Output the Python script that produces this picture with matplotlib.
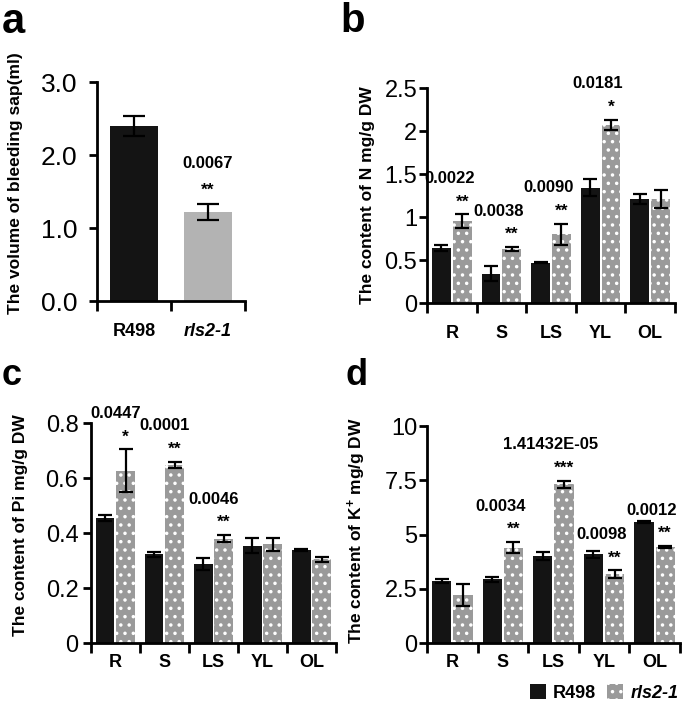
import numpy as np
import matplotlib
matplotlib.use('Agg')
import matplotlib.pyplot as plt
from matplotlib.patches import Patch
from matplotlib.ticker import FuncFormatter

plt.rcParams['font.family'] = ['Liberation Sans', 'DejaVu Sans']
plt.rcParams['mathtext.default'] = 'regular'
plt.rcParams['hatch.linewidth'] = 1.3

# panel a - bleeding sap
genotypes = ['R498', 'rls2-1']
sap = [2.40, 1.22]
sap_err = [0.14, 0.11]
sap_p = '0.0067'
sap_star = '**'

tissues = ['R', 'S', 'LS', 'YL', 'OL']

# panel b - N
n_wt = [0.64, 0.34, 0.47, 1.34, 1.21]
n_wt_err = [0.03, 0.085, 0.01, 0.10, 0.06]
n_mut = [0.95, 0.63, 0.80, 2.07, 1.21]
n_mut_err = [0.08, 0.02, 0.12, 0.06, 0.10]
n_p = ['0.0022', '0.0038', '0.0090', '0.0181', '']
n_star = ['**', '**', '**', '*', '']

# panel c - Pi
pi_wt = [0.455, 0.322, 0.289, 0.354, 0.338]
pi_wt_err = [0.012, 0.008, 0.022, 0.028, 0.005]
pi_mut = [0.627, 0.648, 0.380, 0.359, 0.304]
pi_mut_err = [0.077, 0.010, 0.012, 0.024, 0.010]
pi_p = ['0.0447', '0.0001', '0.0046', '', '']
pi_star = ['*', '**', '**', '', '']

# panel d - K+
k_wt = [2.87, 2.93, 4.00, 4.09, 5.57]
k_wt_err = [0.10, 0.10, 0.18, 0.15, 0.05]
k_mut = [2.20, 4.40, 7.32, 3.17, 4.43]
k_mut_err = [0.50, 0.25, 0.17, 0.18, 0.03]
k_p = ['', '0.0034', '1.41432E-05', '0.0098', '0.0012']
k_star = ['', '**', '***', '**', '**']

BLACK = '#141414'
GRAY = '#9a9a9a'
LIGHT = '#b3b3b3'
ekw = dict(ecolor='black', elinewidth=1.6, capsize=5, capthick=1.6)


def style_axis(ax, n, ylim, step, tickpad, xpad, ysize):
    for s in ['top', 'right']:
        ax.spines[s].set_visible(False)
    for s in ['left', 'bottom']:
        ax.spines[s].set_linewidth(2)
    ax.set_xlim(-0.5, n - 0.5)
    ax.set_ylim(0, ylim)
    ax.set_yticks(np.arange(0, ylim + step / 2, step))
    ax.set_xticks(np.arange(-0.5, n), minor=True)
    ax.tick_params(axis='x', which='major', length=0, pad=xpad)
    ax.tick_params(axis='x', which='minor', length=7, width=2, direction='out')
    ax.tick_params(axis='y', length=6, width=2, pad=tickpad, labelsize=ysize)
    for t in ax.get_xticklabels():
        t.set_fontweight('bold')
        t.set_fontsize(13)


def grouped(ax, wt, wt_err, mut, mut_err, pvals, stars, ylim, step, ylabel, tickpad, xpad, dx_p):
    x = np.arange(len(tissues))
    ax.bar(x - 0.21, wt, 0.38, color=BLACK, yerr=wt_err, error_kw=ekw)
    ax.bar(x + 0.21, mut, 0.38, color=GRAY, edgecolor='white', linewidth=0,
           hatch='..', yerr=mut_err, error_kw=ekw)
    ax.set_xticks(x, tissues)
    style_axis(ax, len(tissues), ylim, step, tickpad, xpad, 17)
    ax.yaxis.set_major_formatter(FuncFormatter(lambda v, p: '%g' % v))
    ax.set_ylabel(ylabel, fontsize=12.5, fontweight='bold')
    for i in range(len(tissues)):
        if not pvals[i]:
            continue
        top = mut[i] + mut_err[i]
        ax.annotate(stars[i], (x[i] + 0.21, top), xytext=(0, 9), textcoords='offset points',
                    ha='center', va='center', fontsize=12.5, fontweight='bold')
        ax.annotate(pvals[i], (x[i] + dx_p, top), xytext=(0, 26), textcoords='offset points',
                    ha='center', va='center', fontsize=12, fontweight='bold', annotation_clip=False)


fig = plt.figure(figsize=(6.85, 7.14), dpi=100)

# a
axa = fig.add_axes([0.1416, 0.5784, 0.2161, 0.3067])
xa = np.arange(len(genotypes))
axa.bar(xa, sap, 0.66, color=[BLACK, LIGHT], yerr=sap_err,
        error_kw=dict(ecolor='black', elinewidth=1.6, capsize=8, capthick=1.6))
axa.set_xticks(xa, genotypes)
style_axis(axa, 2, 3.0, 1.0, 8, 16, 19)
axa.yaxis.set_major_formatter(FuncFormatter(lambda v, p: '%.1f' % v))
axa.get_xticklabels()[1].set_fontstyle('italic')
axa.set_ylabel('The volume of bleeding sap(ml)', fontsize=12.5, fontweight='bold')
axa.yaxis.set_label_coords(-0.5, 0.54)
top = sap[1] + sap_err[1]
axa.annotate(sap_star, (xa[1], top), xytext=(0, 10), textcoords='offset points',
             ha='center', va='center', fontsize=12.5, fontweight='bold')
axa.annotate(sap_p, (xa[1], top), xytext=(0, 29), textcoords='offset points',
             ha='center', va='center', fontsize=12, fontweight='bold')

# b
axb = fig.add_axes([0.6234, 0.5756, 0.362, 0.3011])
grouped(axb, n_wt, n_wt_err, n_mut, n_mut_err, n_p, n_star, 2.5, 0.5,
        'The content of N mg/g DW', 1, 16, -0.05)
axb.yaxis.set_label_coords(-0.21, 0.5)

# c
axc = fig.add_axes([0.1328, 0.0994, 0.3577, 0.3081])
grouped(axc, pi_wt, pi_wt_err, pi_mut, pi_mut_err, pi_p, pi_star, 0.8, 0.2,
        'The content of Pi mg/g DW', 3, 8, 0.0)
axc.yaxis.set_label_coords(-0.257, 0.536)

# d
axd = fig.add_axes([0.6234, 0.0994, 0.369, 0.3039])
grouped(axd, k_wt, k_wt_err, k_mut, k_mut_err, k_p, k_star, 10, 2.5,
        'The content of K$^{+}$ mg/g DW', 1, 8, -0.05)
axd.yaxis.set_label_coords(-0.234, 0.52)

fig.text(0.003, 0.997, 'a', fontsize=30, fontweight='bold', va='top')
fig.text(0.497, 0.997, 'b', fontsize=29, fontweight='bold', va='top')
fig.text(0.003, 0.499, 'c', fontsize=26, fontweight='bold', va='top')
fig.text(0.504, 0.499, 'd', fontsize=26, fontweight='bold', va='top')

handles = [Patch(facecolor=BLACK),
           Patch(facecolor=GRAY, edgecolor='white', linewidth=0, hatch='..')]
leg = fig.legend(handles, genotypes, loc='center', bbox_to_anchor=(0.882, 0.029), ncol=2,
                 frameon=False, handlelength=0.9, handleheight=0.9, handletextpad=0.4,
                 columnspacing=0.6, prop=dict(weight='bold', size=13))
leg.get_texts()[1].set_fontstyle('italic')

fig.savefig('out.png', dpi=100)
